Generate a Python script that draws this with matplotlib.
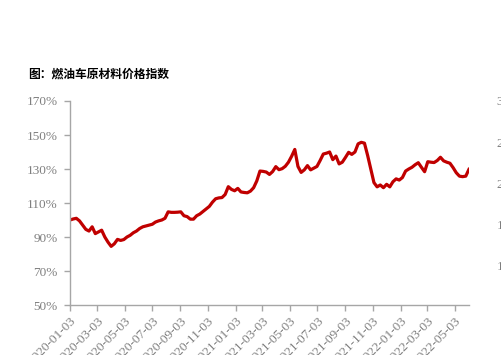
import numpy as np
import pandas as pd
import matplotlib
matplotlib.use("Agg")
import matplotlib.pyplot as plt

# weekly index values (%)
start_date = "2020-01-03"
index_values = [
    100, 100.6, 101, 99.5, 97, 94.5, 93.5, 96, 92, 93,
    94, 90, 87, 84.5, 86, 88.6, 88, 88.5, 90, 91,
    92.5, 93.5, 95, 96, 96.5, 97, 97.5, 98.8, 99.5, 100,
    101, 104.8, 104.5, 104.5, 104.6, 104.8, 102.5, 102, 100.5, 100.5,
    102.5, 103.5, 105, 106.5, 108, 110.5, 112.5, 113, 113.2, 115,
    119.6, 118, 117.2, 118.6, 116.5, 116.2, 116, 117, 119, 123,
    128.8, 128.6, 128.2, 126.8, 128.5, 131.4, 129.6, 130.2, 131.6, 134,
    137.5, 141.5, 131.5, 128, 129.5, 132, 129.5, 130.5, 131.5, 135,
    138.8, 139.3, 140, 135.5, 137.6, 133, 134, 136.8, 139.8, 138.6,
    140, 144.8, 145.7, 145.2, 138, 130, 122, 119.5, 120.6, 119,
    121, 119.5, 122.5, 124.2, 123.5, 125, 128.8, 130, 131, 132.5,
    133.7, 131, 128.4, 134.3, 134, 133.8, 135, 136.9, 134.8, 134,
    133.4, 130.8, 127.8, 125.8, 125.5, 125.8, 129.8,
]
tick_labels = [
    "2020-01-03", "2020-03-03", "2020-05-03", "2020-07-03", "2020-09-03",
    "2020-11-03", "2021-01-03", "2021-03-03", "2021-05-03", "2021-07-03",
    "2021-09-03", "2021-11-03", "2022-01-03", "2022-03-03", "2022-05-03",
]
left_ticks = [50, 70, 90, 110, 130, 150, 170]
right_ticks = [10, 15, 20, 25, 30]
title = "图：燃油车原材料价格指数"

dates = pd.date_range(start_date, periods=len(index_values), freq="7D")
tick_dates = pd.to_datetime(tick_labels)

grey = "#7f7f7f"
serif = "Liberation Serif"

fig = plt.figure(figsize=(5.01, 3.55), dpi=100)
ax = fig.add_axes([0.1397, 0.1408, 0.7963, 0.5747])

ax.plot(dates, index_values, color="#C00000", linewidth=2.3, solid_joinstyle="round")

ax.set_ylim(50, 170)
ax.set_yticks(left_ticks)
ax.set_yticklabels([f"{v}%" for v in left_ticks], fontfamily=serif, fontsize=9.5, color=grey)
ax.set_xlim(pd.Timestamp(start_date), pd.Timestamp("2022-06-03"))
ax.set_xticks(tick_dates)
ax.set_xticklabels(tick_labels, rotation=45, ha="right", rotation_mode="anchor",
                   fontfamily=serif, fontsize=9.5, color=grey)

for side in ["top", "right"]:
    ax.spines[side].set_visible(False)
for side in ["left", "bottom"]:
    ax.spines[side].set_color("#a6a6a6")
    ax.spines[side].set_linewidth(1.0)
ax.tick_params(axis="both", direction="out", length=4, color="#a6a6a6", width=1.0)
ax.tick_params(axis="y", pad=5)
ax.tick_params(axis="x", pad=3)

# right axis, mostly cut off by the figure edge
ax2 = ax.twinx()
ax2.set_ylim(5.2, 30)
ax2.set_yticks(right_ticks)
ax2.set_yticklabels([str(v) for v in right_ticks], fontfamily=serif, fontsize=9.5, color=grey)
ax2.tick_params(axis="y", length=0, pad=20)
for side in ["top", "right", "left", "bottom"]:
    ax2.spines[side].set_visible(False)

fig.text(0.056, 0.79, title, fontfamily=["Noto Sans CJK SC", "DejaVu Sans"],
         fontweight="bold", fontsize=8.5, color="black", va="center")

fig.savefig("out.png", dpi=100)
